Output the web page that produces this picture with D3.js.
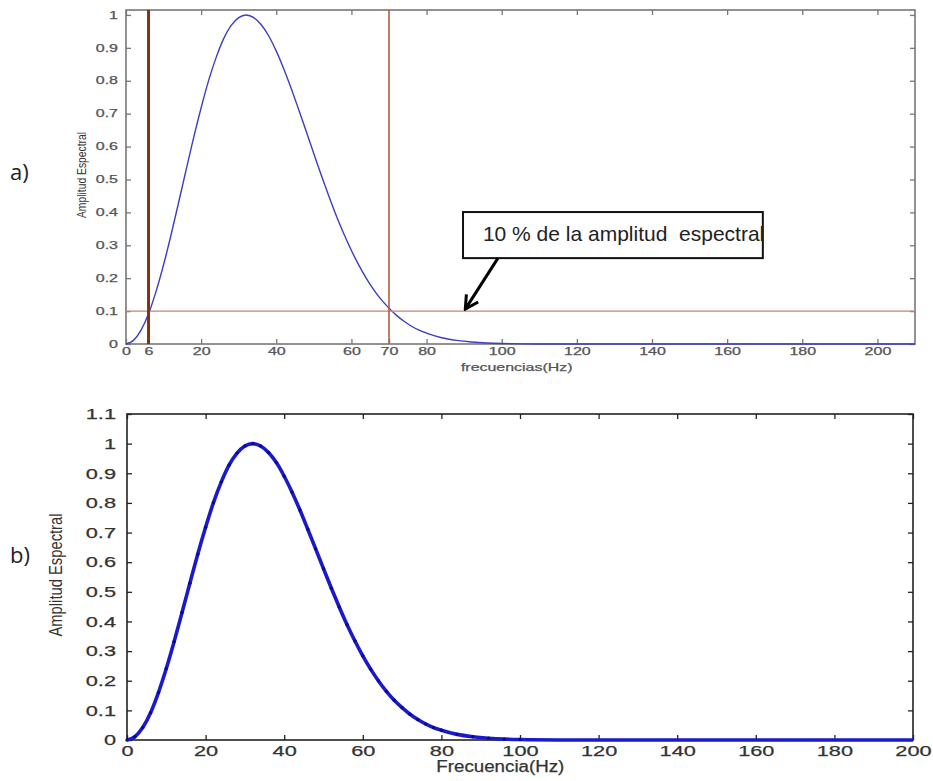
<!DOCTYPE html>
<html>
<head>
<meta charset="utf-8">
<script src="https://cdn.jsdelivr.net/npm/d3@7"></script>
<style>
  body { margin: 0; background: #fff; }
  svg { display: block; font-family: "Liberation Sans", Arial, sans-serif; }
</style>
</head>
<body>
<svg id="fig" width="933" height="781"></svg>
<script>
// spectrum (Hz -> normalised amplitude)
const freq = [0, 2, 4, 6, 8, 10, 12, 14, 16, 18, 20, 22, 24, 26, 28, 30, 32, 34, 36, 38, 40,
  42, 44, 46, 48, 50, 52, 54, 56, 58, 60, 62, 64, 66, 68, 70, 72, 74, 76, 78, 80,
  84, 88, 92, 96, 100, 110, 120, 130, 140, 150, 160, 170, 180, 190, 200, 210];
const amp = [0, 0.011, 0.042, 0.092, 0.16, 0.241, 0.332, 0.43, 0.529, 0.627, 0.718, 0.801, 0.871, 0.928, 0.968, 0.992, 1.0, 0.992, 0.97, 0.936, 0.89,
  0.836, 0.776, 0.711, 0.645, 0.578, 0.512, 0.449, 0.389, 0.334, 0.284, 0.239, 0.199, 0.164, 0.134, 0.109, 0.087, 0.069, 0.054, 0.042, 0.033,
  0.019, 0.011, 0.006, 0.003, 0.0015, 0.0002, 0, 0, 0, 0, 0, 0, 0, 0, 0, 0];

const xTicksA = [0, 6, 20, 40, 60, 70, 80, 100, 120, 140, 160, 180, 200];
const yTicksA = [0, 0.1, 0.2, 0.3, 0.4, 0.5, 0.6, 0.7, 0.8, 0.9, 1];
const xTicksB = [0, 20, 40, 60, 80, 100, 120, 140, 160, 180, 200];
const yTicksB = [0, 0.1, 0.2, 0.3, 0.4, 0.5, 0.6, 0.7, 0.8, 0.9, 1, 1.1];

const cutoffFreqs = [6, 70];
const cutoffLevel = 0.1;
const noteText = "10 % de la amplitud  espectral";

const data = freq.map((f, i) => ({ f, a: amp[i] }));
const svg = d3.select("#fig");

// arrow head for the annotation
svg.append("defs").append("marker")
  .attr("id", "head")
  .attr("viewBox", "-16 -9 18 18")
  .attr("markerWidth", 18).attr("markerHeight", 18)
  .attr("markerUnits", "userSpaceOnUse")
  .attr("refX", 0).attr("refY", 0)
  .attr("orient", "auto")
  .append("path")
  .attr("d", "M-13,-7L0,0L-13,7")
  .attr("fill", "none").attr("stroke", "#000").attr("stroke-width", 3);

function stretch(sel, k) {
  sel.each(function () {
    const w = this.getComputedTextLength();
    d3.select(this).attr("textLength", w * k).attr("lengthAdjust", "spacingAndGlyphs");
  });
}

function drawPanel(p) {
  const g = svg.append("g");
  const x = d3.scaleLinear().domain(p.xDomain).range([p.left, p.right]);
  const y = d3.scaleLinear().domain(p.yDomain).range([p.bottom, p.top]);
  const fmt = (d) => String(d);
  const w = p.right - p.left;
  const h = p.bottom - p.top;

  g.append("rect")
    .attr("x", p.left).attr("y", p.top).attr("width", w).attr("height", h)
    .attr("fill", "#fff").attr("stroke", p.boxColor).attr("stroke-width", 1.6);

  const styleAxis = (a) => {
    a.attr("font-size", null).attr("font-family", null);
    a.select(".domain").remove();
    a.selectAll(".tick line").attr("stroke", p.boxColor).attr("stroke-width", 1.3);
    a.selectAll(".tick text")
      .attr("fill", p.tickColor)
      .attr("stroke", p.tickColor).attr("stroke-width", 0.25)
      .style("font-size", p.tickFont + "px");
  };

  const xb = g.append("g").attr("transform", `translate(0,${p.bottom})`)
    .call(d3.axisBottom(x).tickValues(p.xTicks).tickSizeInner(-5).tickSizeOuter(0).tickPadding(p.xPad).tickFormat(fmt));
  const xt = g.append("g").attr("transform", `translate(0,${p.top})`)
    .call(d3.axisTop(x).tickValues(p.xTicks.filter((d) => d % 20 === 0)).tickSizeInner(-5).tickSizeOuter(0).tickFormat(""));
  const yl = g.append("g").attr("transform", `translate(${p.left},0)`)
    .call(d3.axisLeft(y).tickValues(p.yTicks).tickSizeInner(-5).tickSizeOuter(0).tickPadding(p.yPad).tickFormat(fmt));
  const yr = g.append("g").attr("transform", `translate(${p.right},0)`)
    .call(d3.axisRight(y).tickValues(p.yTicks).tickSizeInner(-5).tickSizeOuter(0).tickFormat(""));
  [xb, xt, yl, yr].forEach(styleAxis);
  stretch(xb.selectAll(".tick text"), p.tickStretch);
  stretch(yl.selectAll(".tick text"), p.tickStretch);

  const pts = data.filter((d) => d.f <= p.xDomain[1]);
  const line = d3.line().curve(d3.curveMonotoneX).x((d) => x(d.f)).y((d) => y(d.a));
  g.append("path").datum(pts)
    .attr("d", line)
    .attr("fill", "none")
    .attr("stroke", p.lineColor)
    .attr("stroke-width", p.lineWidth)
    .attr("stroke-linejoin", "round");

  if (p.dots) {
    g.append("g").selectAll("circle").data(pts.filter((d) => d.f <= 100)).join("circle")
      .attr("cx", (d) => x(d.f)).attr("cy", (d) => y(d.a)).attr("r", 1.7)
      .attr("fill", "#0a0a8c");
  }

  if (p.guides) {
    g.append("line")
      .attr("x1", p.left).attr("x2", p.right)
      .attr("y1", y(cutoffLevel)).attr("y2", y(cutoffLevel))
      .attr("stroke", "#c4866a").attr("stroke-width", 1.3);
    g.selectAll("line.cut").data(cutoffFreqs).join("line")
      .attr("class", "cut")
      .attr("x1", (d) => x(d)).attr("x2", (d) => x(d))
      .attr("y1", p.top).attr("y2", p.bottom)
      .attr("stroke", (d, i) => (i === 0 ? "#7a3418" : "#b0603e"))
      .attr("stroke-width", (d, i) => (i === 0 ? 3 : 1.6));
  }

  const xl = g.append("text")
    .attr("x", x(p.xLabelAt)).attr("y", p.xLabelY)
    .attr("text-anchor", "middle")
    .attr("fill", p.tickColor)
    .attr("stroke", p.tickColor).attr("stroke-width", 0.25)
    .style("font-size", p.xLabelFont + "px")
    .text(p.xLabel);
  stretch(xl, p.xLabelStretch);

  const ylab = g.append("text")
    .attr("transform", `translate(${p.yLabelX},${(p.top + p.bottom) / 2 - 2}) rotate(-90)`)
    .attr("text-anchor", "middle")
    .attr("fill", "#333")
    .style("font-size", p.yLabelFont + "px")
    .text("Amplitud Espectral");
  stretch(ylab, p.yLabelStretch);

  svg.append("text")
    .attr("x", 10).attr("y", p.tagY)
    .attr("fill", "#222")
    .style("font-family", "'Open Sans', sans-serif")
    .style("font-size", "22px")
    .text(p.tag);

  return { x, y, g };
}

const a = drawPanel({
  left: 126, right: 915, top: 10, bottom: 344,
  xDomain: [0, 210], yDomain: [0, 1.015],
  xTicks: xTicksA, yTicks: yTicksA,
  boxColor: "#777", tickColor: "#555", tickFont: 10, tickStretch: 1.6,
  xPad: 4, yPad: 8,
  lineColor: "#3d3dc4", lineWidth: 1.4, dots: false, guides: true,
  xLabel: "frecuencias(Hz)", xLabelAt: 104, xLabelY: 371, xLabelFont: 11, xLabelStretch: 1.45,
  yLabelX: 86, yLabelFont: 12, yLabelStretch: 0.86,
  tag: "a)", tagY: 180
});

drawPanel({
  left: 127, right: 913, top: 414, bottom: 740,
  xDomain: [0, 200], yDomain: [0, 1.1],
  xTicks: xTicksB, yTicks: yTicksB,
  boxColor: "#222", tickColor: "#333", tickFont: 15, tickStretch: 1.45,
  xPad: 5, yPad: 11,
  lineColor: "#1a1acc", lineWidth: 3.6, dots: true, guides: false,
  xLabel: "Frecuencia(Hz)", xLabelAt: 95, xLabelY: 772, xLabelFont: 16, xLabelStretch: 1.17,
  yLabelX: 62, yLabelFont: 18, yLabelStretch: 0.82,
  tag: "b)", tagY: 563
});

// annotation on panel a, placed in data units
const note = { x0: 89.7, x1: 169.5, yTop: 0.401, yBot: 0.261, textX: 95, textY: 0.313, fromX: 99, toX: 90.3, toY: 0.106 };
a.g.append("rect")
  .attr("x", a.x(note.x0)).attr("y", a.y(note.yTop))
  .attr("width", a.x(note.x1) - a.x(note.x0)).attr("height", a.y(note.yBot) - a.y(note.yTop))
  .attr("fill", "#fff").attr("stroke", "#111").attr("stroke-width", 2);
a.g.append("text")
  .attr("x", a.x(note.textX)).attr("y", a.y(note.textY))
  .attr("fill", "#222")
  .style("font-size", "21px")
  .style("white-space", "pre")
  .text(noteText);
a.g.append("line")
  .attr("x1", a.x(note.fromX)).attr("y1", a.y(note.yBot))
  .attr("x2", a.x(note.toX)).attr("y2", a.y(note.toY))
  .attr("stroke", "#000").attr("stroke-width", 3)
  .attr("marker-end", "url(#head)");
</script>
</body>
</html>
